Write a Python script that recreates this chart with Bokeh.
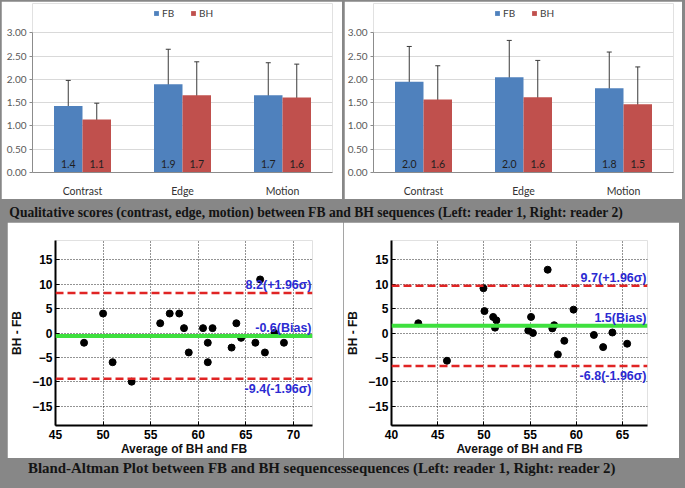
from bokeh.plotting import figure
from bokeh.layouts import column, row
from bokeh.models import (ColumnDataSource, FactorRange, Range1d, Whisker, TeeHead,
                          Legend, LegendItem, FixedTicker, NumeralTickFormatter,
                          Span, Label)
from bokeh.core.properties import value
from bokeh.transform import dodge
from bokeh.embed import file_html
from bokeh.resources import INLINE

# ---------------- data ----------------
categories = ["Contrast", "Edge", "Motion"]
series_names = ["FB", "BH"]

# reader 1 (left bar chart)
r1_fb = [1.43, 1.90, 1.66]
r1_bh = [1.14, 1.66, 1.61]
r1_fb_sd = [0.55, 0.75, 0.70]
r1_bh_sd = [0.35, 0.72, 0.72]
r1_fb_lbl = ["1.4", "1.9", "1.7"]
r1_bh_lbl = ["1.1", "1.7", "1.6"]

# reader 2 (right bar chart)
r2_fb = [1.95, 2.05, 1.81]
r2_bh = [1.57, 1.62, 1.47]
r2_fb_sd = [0.76, 0.79, 0.78]
r2_bh_sd = [0.725, 0.79, 0.80]
r2_fb_lbl = ["2.0", "2.0", "1.8"]
r2_bh_lbl = ["1.6", "1.6", "1.5"]

bar_ticks = [0.0, 0.5, 1.0, 1.5, 2.0, 2.5, 3.0]
bar_ymax = 3.0

# Bland-Altman reader 1
ba1_avg = [48, 50, 51, 53, 56, 57, 58, 58.5, 59, 60.5, 61, 61, 61.5, 63.5, 64, 64.5,
           66, 66.5, 67, 68, 69]
ba1_diff = [-2, 4, -6, -10, 2, 4, 4, 1, -4, 1, -2, -6, 1, -3, 2, -1,
            -2, 11, -4, 0, -2]
ba1_upper, ba1_bias, ba1_lower = 8.2, -0.6, -9.4
ba1_labels = ["8.2(+1.96σ)", "-0.6(Bias)", "-9.4(-1.96σ)"]
ba1_xticks = [45, 50, 55, 60, 65, 70]
ba1_xrange = (45, 72)

# Bland-Altman reader 2
ba2_avg = [42.9, 46, 49.95, 50.06, 51.0, 51.35, 51.2, 54.8, 55.1, 55.3, 56.9, 57.4,
           57.6, 58.0, 58.7, 59.7, 61.9, 62.9, 63.9, 65.5]
ba2_diff = [2, -5.7, 9.2, 4.5, 3.3, 2.6, 1.1, 0.5, 3.3, 0, 13, 0.95,
            1.6, -4.4, -1.6, 4.8, -0.4, -2.9, 0.1, -2.2]
ba2_upper, ba2_bias, ba2_lower = 9.7, 1.5, -6.8
ba2_labels = ["9.7(+1.96σ)", "1.5(Bias)", "-6.8(-1.96σ)"]
ba2_xticks = [40, 45, 50, 55, 60, 65]
ba2_xrange = (40, 67.7)

ba_yticks = [-15, -10, -5, 0, 5, 10, 15]
ba_yrange = (-19, 19)

caption_top = "Qualitative scores (contrast, edge, motion) between FB and BH  sequences (Left: reader 1, Right: reader 2)"
caption_bottom = "Bland-Altman Plot between FB and BH sequencessequences (Left: reader 1, Right: reader 2)"

# ---------------- styles ----------------
GRAY = "#878787"
BLUE = "#4F81BD"
RED = "#C0504D"
XL_FONT = "Lato"
BA_FONT = "Liberation Sans"
CAP_FONT = "Liberation Serif"
LBL_BLUE = "#2b2bd2"


def bar_chart(fb, bh, fb_sd, bh_sd, fb_lbl, bh_lbl, width, left, right):
    src = ColumnDataSource(dict(
        cat=categories, fb=fb, bh=bh,
        fb_lo=[v - s for v, s in zip(fb, fb_sd)], fb_hi=[v + s for v, s in zip(fb, fb_sd)],
        bh_lo=[v - s for v, s in zip(bh, bh_sd)], bh_hi=[v + s for v, s in zip(bh, bh_sd)],
        fb_lbl=fb_lbl, bh_lbl=bh_lbl, zero=[0] * len(categories)))
    # frame starts 2px below the top; the 3.00 gridline sits 30px lower
    # (room for the legend); 0..3 spans 142px
    top_units = bar_ymax * (142 + 30) / 142.0
    p = figure(width=width, height=198, x_range=FactorRange(*categories),
               y_range=Range1d(0, top_units), toolbar_location=None, output_backend="svg",
               min_border_left=left, min_border_right=right, min_border_top=2,
               min_border_bottom=24, outline_line_color=None,
               border_fill_color="white", background_fill_color="white")
    off = 0.1425
    w = 0.285
    r_fb = p.vbar(x=dodge("cat", -off, range=p.x_range), top="fb", width=w, source=src,
                  fill_color=BLUE, line_color=None)
    r_bh = p.vbar(x=dodge("cat", off, range=p.x_range), top="bh", width=w, source=src,
                  fill_color=RED, line_color=None)
    for key, d in (("fb", -off), ("bh", off)):
        wh = Whisker(base=dodge("cat", d, range=p.x_range), lower=key + "_lo", upper=key + "_hi",
                     source=src, line_color="#3a3a3a", line_width=1,
                     upper_head=TeeHead(size=5, line_color="#3a3a3a", line_width=1),
                     lower_head=TeeHead(size=5, line_color="#3a3a3a", line_width=1))
        p.add_layout(wh)
        p.text(x=dodge("cat", d, range=p.x_range), y="zero", text=key + "_lbl", source=src,
               y_offset=-9, text_align="center", text_baseline="middle",
               text_font_size="10.5px", text_color="#1f1f1f", text_font=value(XL_FONT))
    p.xgrid.grid_line_color = None
    p.ygrid.grid_line_color = "#d9d9d9"
    p.yaxis.ticker = FixedTicker(ticks=bar_ticks)
    p.ygrid.ticker = FixedTicker(ticks=bar_ticks)
    p.yaxis.bounds = (0, bar_ymax)
    p.yaxis.formatter = NumeralTickFormatter(format="0.00")
    for ax in (p.xaxis, p.yaxis):
        ax.axis_line_color = "#8c8c8c"
        ax.major_tick_line_color = "#8c8c8c"
        ax.minor_tick_line_color = None
        ax.major_label_text_font = XL_FONT
        ax.major_label_text_font_size = "10px"
    p.yaxis.major_tick_out = 3
    p.yaxis.major_tick_in = 0
    p.yaxis.major_label_standoff = 3
    p.yaxis.major_label_text_color = "#595959"
    p.xaxis.major_tick_line_color = None
    p.xaxis.major_label_standoff = 6
    p.xaxis.major_label_text_color = "#333333"
    p.xaxis.major_label_text_font_size = "10.5px"
    legend = Legend(items=[LegendItem(label=series_names[0], renderers=[r_fb]),
                           LegendItem(label=series_names[1], renderers=[r_bh])],
                    orientation="horizontal", location=(121, 153),
                    border_line_color=None, background_fill_alpha=0,
                    glyph_width=6, glyph_height=6, label_standoff=3, spacing=8,
                    padding=0, margin=0, label_text_font=XL_FONT,
                    label_height=12,
                    label_text_font_size="10px", label_text_color="#404040")
    p.add_layout(legend)
    return p


def ba_plot(avg, diff, upper, bias, lower, labels, xticks, xr, width, left, right):
    p = figure(width=width, height=236, x_range=Range1d(*xr), y_range=Range1d(*ba_yrange),
               toolbar_location=None, output_backend="svg",
               min_border_left=left, min_border_right=right, min_border_top=18,
               min_border_bottom=32, outline_line_color=None,
               border_fill_color="white", background_fill_color="white")
    for g in (p.xgrid, p.ygrid):
        g.grid_line_color = "black"
        g.grid_line_dash = "1 2"
        g.grid_line_alpha = 0.85
    p.xaxis.ticker = FixedTicker(ticks=xticks)
    p.yaxis.ticker = FixedTicker(ticks=ba_yticks)
    for ax in (p.xaxis, p.yaxis):
        ax.axis_line_width = 2
        ax.axis_line_color = "black"
        ax.major_tick_in = 4
        ax.major_tick_out = 0
        ax.minor_tick_line_color = None
        ax.major_label_text_font = BA_FONT
        ax.major_label_text_font_style = "bold"
        ax.major_label_text_font_size = "12px"
        ax.major_label_text_color = "black"
        ax.axis_label_text_font = BA_FONT
        ax.axis_label_text_font_style = "bold"
        ax.axis_label_text_font_size = "12px"
        ax.axis_label_text_color = "#111111"
        ax.major_label_standoff = 3
    p.xaxis.major_label_standoff = 4
    p.xaxis.axis_label_standoff = 0
    p.yaxis.axis_label_standoff = 5
    p.xaxis.axis_label = "Average of BH and FB"
    p.yaxis.axis_label = "BH - FB"
    p.add_layout(Span(location=upper, dimension="width", line_color="#e02424",
                      line_width=2.5, line_dash="8 4"))
    p.add_layout(Span(location=lower, dimension="width", line_color="#e02424",
                      line_width=2.5, line_dash="8 4"))
    p.add_layout(Span(location=bias, dimension="width", line_color="#3ee03e",
                      line_width=4))
    p.scatter(avg, diff, size=7, fill_color="black", line_color="black")
    xend = xr[1]
    for txt, yv, base, yoff in ((labels[0], upper, "bottom", 1),
                                (labels[1], bias, "bottom", 1),
                                (labels[2], lower, "top", -3)):
        p.add_layout(Label(x=xend, y=yv, text=txt, text_align="right", text_baseline=base,
                           x_offset=-1, y_offset=yoff, text_font=BA_FONT,
                           text_font_style="bold", text_font_size="12.5px",
                           text_color=LBL_BLUE))
    return p


def caption(text, h, size, xc, yc):
    p = figure(width=685, height=h, x_range=Range1d(0, 1), y_range=Range1d(0, 1),
               x_axis_type=None, y_axis_type=None, toolbar_location=None,
               output_backend="svg", min_border=0, outline_line_color=None,
               border_fill_color=GRAY, background_fill_color=GRAY)
    p.grid.grid_line_color = None
    p.add_layout(Label(x=xc, y=yc, text=text, text_align="center", text_baseline="middle",
                       text_font=CAP_FONT, text_font_style="bold", text_font_size=size,
                       text_color="#141414"))
    return p


bar1 = bar_chart(r1_fb, r1_bh, r1_fb_sd, r1_bh_sd, r1_fb_lbl, r1_bh_lbl, 341, 31, 10)
bar2 = bar_chart(r2_fb, r2_bh, r2_fb_sd, r2_bh_sd, r2_fb_lbl, r2_bh_lbl, 338, 28, 9)
bar1.margin = (1, 2, 0, 1)
bar2.margin = (1, 3, 0, 0)
ba1 = ba_plot(ba1_avg, ba1_diff, ba1_upper, ba1_bias, ba1_lower, ba1_labels, ba1_xticks,
              ba1_xrange, 336, 45, 31)
ba2 = ba_plot(ba2_avg, ba2_diff, ba2_upper, ba2_bias, ba2_lower, ba2_labels, ba2_xticks,
              ba2_xrange, 336, 39, 32)
ba1.margin = (0, 0, 0, 7)
ba2.margin = (0, 6, 0, 0)

cap1 = caption(caption_top, 23, "13.6px", 0.4635, 0.44)
cap2 = caption(caption_bottom, 30, "14.9px", 0.4693, 0.7)

top = row(bar1, bar2, spacing=0, styles={"background-color": GRAY})
bottom = row(ba1, ba2, spacing=0, styles={"background-color": GRAY})
layout = column(top, cap1, bottom, cap2, spacing=0, styles={"background-color": GRAY})

open("out.html", "w").write(file_html(layout, INLINE))
